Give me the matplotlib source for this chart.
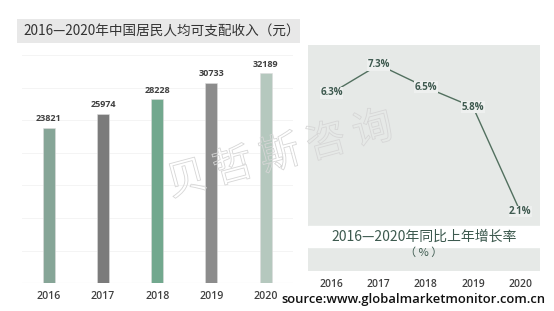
import matplotlib.pyplot as plt
import matplotlib.patheffects as pe
from matplotlib.patches import Rectangle

plt.rcParams['font.family'] = ['Noto Sans CJK SC', 'DejaVu Sans']

# data
years = ['2016', '2017', '2018', '2019', '2020']
income = [23821, 25974, 28228, 30733, 32189]
growth = [6.3, 7.3, 6.5, 5.8, 2.1]
bar_colors = ['#86a597', '#7b7b7b', '#72a88e', '#8c8c8c', '#b5c8be']

W, H = 554, 311
fig = plt.figure(figsize=(W / 100, H / 100), dpi=100)


def px_axes(x0, y0, x1, y1):
    # axes from pixel box (top-left origin)
    return fig.add_axes([x0 / W, 1 - y1 / H, (x1 - x0) / W, (y1 - y0) / H])


# left title box
fig.patches.append(Rectangle((17 / W, 1 - 43.3 / H), 283 / W, 24 / H,
                             transform=fig.transFigure, facecolor='#e8e8e8',
                             edgecolor='none', zorder=0))
fig.text(23 / W, 1 - 31.5 / H, '2016—2020年中国居民人均可支配收入（元）',
         fontsize=9.8, color='#333333', va='center', ha='left')

# bar chart
ax1 = px_axes(21.7, 54.9, 292.7, 283.3)
x = range(len(years))
ax1.bar(x, income, width=0.22, color=bar_colors, zorder=2,
        edgecolor='#dddddd', linewidth=0.4)
for i, v in enumerate(income):
    ax1.text(i, v + 700, str(v), ha='center', va='bottom', fontsize=6.5,
             fontweight='bold', color='#404040', family=['Open Sans', 'DejaVu Sans'])
ax1.set_xlim(-0.5, 4.5)
ax1.set_ylim(0, 35000)
ax1.set_yticks(range(0, 35001, 5000))
ax1.set_yticklabels([])
ax1.grid(axis='y', color='#f4f4f4', linewidth=0.7, zorder=0)
ax1.set_xticks(list(x))
ax1.set_xticklabels(years, fontsize=7.6, color='#404040', fontweight='semibold',
                    family=['Open Sans', 'DejaVu Sans'])
ax1.tick_params(length=0, pad=5.5)
for s in ax1.spines.values():
    s.set_visible(False)
ax1.axhline(0, color='#e4e4e4', linewidth=0.8, zorder=1)

# growth line chart
ax2 = px_axes(308, 45, 540, 270.7)
ax2.set_facecolor('#e6e9e7')
ax2.plot(list(x), growth, color='#52705f', linewidth=1.0, zorder=2)
for i, v in enumerate(growth):
    ax2.text(i, v, f'{v}%', ha='center', va='center', fontsize=7,
             fontweight='bold', color='#3f5a50', zorder=3,
             family=['Open Sans', 'DejaVu Sans'],
             bbox=dict(facecolor='#eef0ef', edgecolor='none', pad=0.3))
ax2.set_xlim(-0.5, 4.42)
ax2.set_ylim(0, 8)
ax2.set_yticks([])
ax2.set_xticks(list(x))
ax2.set_xticklabels(years, fontsize=7.4, color='#404040', fontweight='semibold',
                    family=['Open Sans', 'DejaVu Sans'])
ax2.tick_params(length=0, pad=6)
for s in ax2.spines.values():
    s.set_visible(False)
# white title band inside the panel
ax2.axhspan(0.845, 1.57, color='white', zorder=1)
ax2.text(0.5, (1.57 + 0.845) / 2 / 8, '2016—2020年同比上年增长率',
         transform=ax2.transAxes, ha='center', va='center', fontsize=10,
         color='#3d5a4f', zorder=4)
ax2.text(0.5, 1 - (253 - 45) / 225.7, '（ % ）', transform=ax2.transAxes,
         ha='center', va='center', fontsize=8, color='#3d5a4f', zorder=4)

# watermark
wm = '贝哲斯咨询'
x0, y0, x1, y1 = 187, 180, 373, 130
for k, ch in enumerate(wm):
    cx = x0 + (x1 - x0) * k / 4
    cy = y0 + (y1 - y0) * k / 4
    fig.text(cx / W, 1 - cy / H, ch, fontsize=29, rotation=15, color='none',
             ha='center', va='center', zorder=10, fontweight='light',
             path_effects=[pe.Stroke(linewidth=0.6, foreground='#d6d6d6')])

# source
fig.text(545 / W, 1 - 300 / H, 'source:www.globalmarketmonitor.com.cn',
         ha='right', va='center', fontsize=9.4, color='#111111',
         fontweight='semibold', family=['Open Sans', 'DejaVu Sans'])

plt.savefig('out.png', dpi=100)
